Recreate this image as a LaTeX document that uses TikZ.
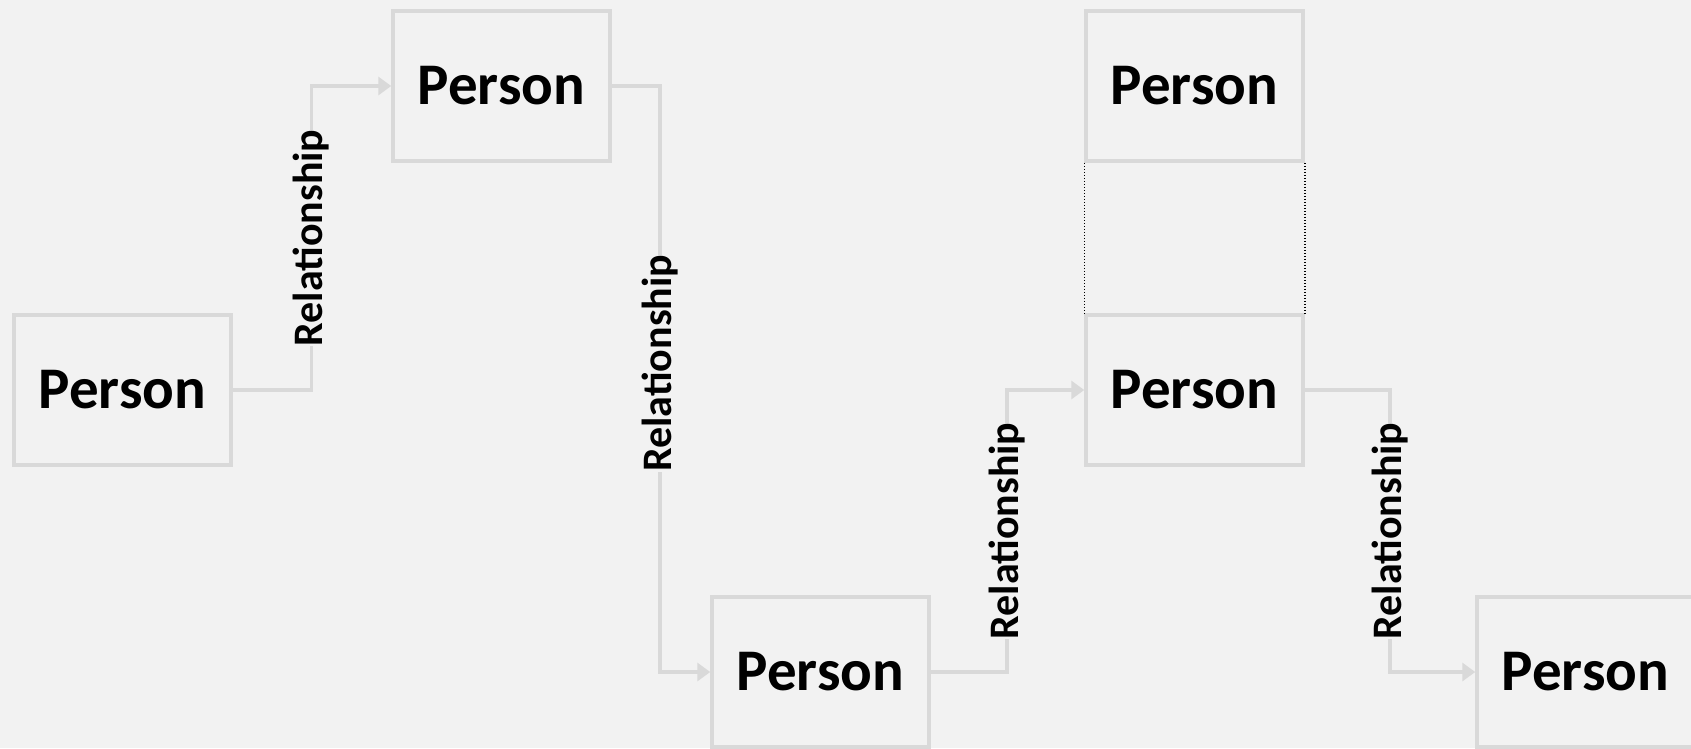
\documentclass[tikz,border=0pt]{standalone}
\usepackage{fontspec}
\setmainfont{Carlito}
\usetikzlibrary{arrows.meta}
\definecolor{bg}{HTML}{F2F2F2}
\definecolor{edge}{HTML}{D9D9D9}
\tikzset{
  person/.style={draw=edge, line width=3.5pt, minimum width=217pt, minimum height=150pt,
    inner sep=0pt, font=\fontsize{59}{59}\selectfont\bfseries, text=black},
  conn/.style={draw=edge, line width=3.5pt, -{Triangle[length=13pt,width=18pt]}},
  rel/.style={rotate=90, font=\fontsize{42}{42}\selectfont\bfseries, fill=bg, inner sep=0pt, text=black},
  dotline/.style={draw=black, line width=1.5pt, dash pattern=on 1.5pt off 1.5pt}
}
\begin{document}
\begin{tikzpicture}[x=1pt,y=-1pt]
\fill[bg] (0,0) rectangle (1691,748);
\useasboundingbox (0,0) rectangle (1691,748);
\begin{scope}
\clip (0,0) rectangle (1691,748);
\node[person] (b1) at (122.5,390) {Person};
\node[person] (b2) at (501.5,86) {Person};
\node[person] (b3) at (820.5,672) {Person};
\node[person] (b4) at (1194.5,86) {Person};
\node[person] (b5) at (1194.5,390) {Person};
\node[person] (b6) at (1585.5,672) {Person};
\end{scope}
\coordinate (k1) at (311.5,0);
\coordinate (k2) at (660,0);
\coordinate (k3) at (1007,0);
\coordinate (k4) at (1390,0);
\draw[dotline] (b4.south west) -- (b5.north west);
\draw[dotline] (b4.south east) -- (b5.north east);
\draw[conn] (b1.east) -- (b1.east -| k1) -- node[rel, pos=0.5] (r1) {Relationship} (b2.west -| k1) -- (b2.west);
\draw[conn] (b2.east) -- (b2.east -| k2) -- node[rel, pos=0.473] (r2) {Relationship} (b3.west -| k2) -- (b3.west);
\draw[conn] (b3.east) -- (b3.east -| k3) -- node[rel, pos=0.5] (r3) {Relationship} (b5.west -| k3) -- (b5.west);
\draw[conn] (b5.east) -- (b5.east -| k4) -- node[rel, pos=0.5] (r4) {Relationship} (b6.west -| k4) -- (b6.west);
\end{tikzpicture}
\end{document}
